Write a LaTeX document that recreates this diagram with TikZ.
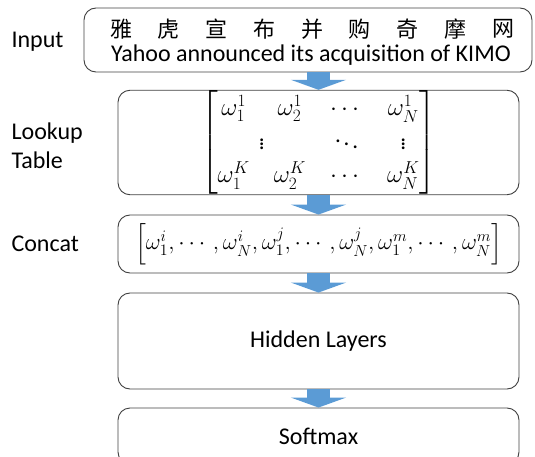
\documentclass[tikz,border=0pt]{standalone}
\usepackage{amsmath}
\usepackage{graphicx}
\usepackage{fontspec}
\setmainfont{Carlito}
\newfontfamily\cjk{Noto Sans CJK SC}
\usetikzlibrary{arrows.meta,positioning}
\definecolor{flowblue}{HTML}{5B9BD5}
\definecolor{boxgray}{HTML}{404040}
\tikzset{
  layer/.style={draw=boxgray, line width=0.9pt, rounded corners=12pt, minimum width=401pt, inner sep=0pt},
  flow/.style={flowblue, line width=23pt, -{Triangle[width=55pt,length=10pt]}},
  sidelabel/.style={anchor=west, align=left, font=\fontsize{24}{29}\selectfont},
  boxtext/.style={font=\fontsize{24}{29}\selectfont},
  hanzi/.style={font=\cjk\fontsize{22}{26}\selectfont, inner sep=0pt},
}
\begin{document}
\begin{tikzpicture}[x=1pt,y=1pt]
  \useasboundingbox (0,0) rectangle (535,-457);
  % boxes
  \node[layer, minimum width=448pt, minimum height=64pt] (input) at (308,-40) {};
  \node[layer, minimum height=103pt, font=\fontsize{23}{27}\selectfont] (lookup) at (318.5,-142.5)
    {$\setlength{\arraycolsep}{12pt}\renewcommand{\arraystretch}{1.25}\begin{bmatrix}
      \omega_1^1 & \omega_2^1 & \cdots & \omega_N^1\\
      \multicolumn{2}{c}{\vdots} & \ddots & \vdots\\
      \omega_1^K & \omega_2^K & \cdots & \omega_N^K
    \end{bmatrix}$};
  \node[layer, minimum height=58pt, font=\fontsize{22}{26}\selectfont] (concat) at (318.5,-244)
    {\resizebox{367pt}{!}{$\Bigl[\omega_1^i,\cdots,\omega_N^i,\omega_1^j,\cdots,\omega_N^j,\omega_1^m,\cdots,\omega_N^m\Bigr]$}};
  \node[layer, boxtext, minimum height=96pt] (hidden) at (318.5,-341) {Hidden Layers};
  \node[layer, boxtext, minimum height=56pt] (softmax) at (318.5,-436) {Softmax};
  % input sentence
  \foreach \c [count=\i] in {雅,虎,宣,布,并,购,奇,摩,网}
    \node[hanzi] (zh\i) at ({121+(\i-1)*47.75},-29) {\c};
  \node[boxtext, inner sep=0pt] (en) at (311,-55) {Yahoo announced its acquisition of KIMO};
  % side labels
  \node[sidelabel] (inlabel) at (8,-42) {Input};
  \node[sidelabel] (lookuplabel) at (8,-146) {Lookup\\Table};
  \node[sidelabel] (concatlabel) at (8,-244) {Concat};
  % arrows
  \draw[flow] (input.south -| lookup.north) -- (lookup.north);
  \draw[flow] (lookup.south) -- (concat.north);
  \draw[flow] (concat.south) -- (hidden.north);
  \draw[flow] (hidden.south) -- (softmax.north);
\end{tikzpicture}
\end{document}
